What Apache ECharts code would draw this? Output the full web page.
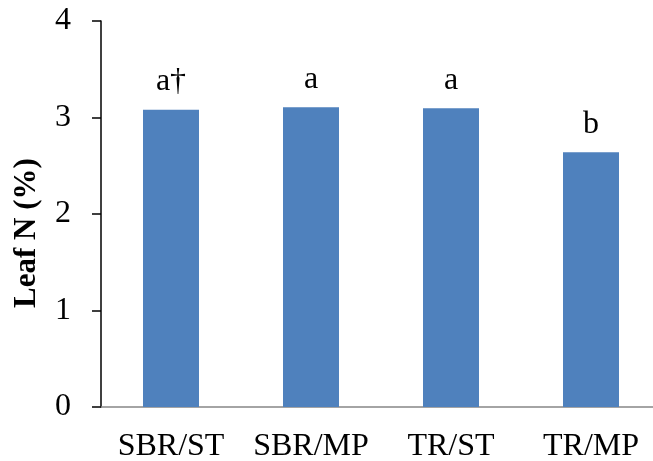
<!DOCTYPE html>
<html>
<head>
<meta charset="utf-8">
<script src="https://cdn.jsdelivr.net/npm/echarts@6/dist/echarts.min.js"></script>
<style>html,body{margin:0;padding:0;background:#fff;}#c{width:653px;height:461px;}</style>
</head>
<body>
<div id="c"></div>
<script>
const categories = ['SBR/ST', 'SBR/MP', 'TR/ST', 'TR/MP'];
const leafN = [3.08, 3.105, 3.095, 2.64];
const letters = ['a\u2020', 'a', 'a', 'b'];
const yTicks = [0, 1, 2, 3, 4];
const yTitle = 'Leaf N (%)';

const chart = echarts.init(document.getElementById('c'), null, {renderer: 'canvas'});
const serif = 'Liberation Serif';
chart.setOption({
  animation: false,
  grid: {left: 101, right: -8, top: 21, bottom: 54, containLabel: false, outerBoundsMode: 'none'},
  xAxis: {
    type: 'category',
    data: categories,
    axisLine: {lineStyle: {color: '#868686', width: 1.5}},
    axisTick: {show: false},
    axisLabel: {interval: 0, color: '#000', fontFamily: serif, fontSize: 32, margin: 24}
  },
  yAxis: {
    type: 'value',
    min: yTicks[0],
    max: yTicks[yTicks.length - 1],
    interval: 1,
    axisLine: {show: true, lineStyle: {color: '#000', width: 1.5}},
    axisTick: {show: true, length: 9, lineStyle: {color: '#000', width: 1.5}},
    splitLine: {show: false},
    axisLabel: {color: '#000', fontFamily: serif, fontSize: 32, margin: 30}
  },
  series: [{
    type: 'bar',
    data: leafN,
    barWidth: '40%',
    itemStyle: {color: '#4F81BD'},
    label: {
      show: true,
      position: 'top',
      distance: 12,
      formatter: p => letters[p.dataIndex],
      color: '#000',
      fontFamily: serif,
      fontSize: 32
    }
  }],
  graphic: [{
    type: 'text',
    x: 27,
    y: 233,
    rotation: Math.PI / 2,
    style: {
      text: yTitle,
      fontFamily: serif,
      fontWeight: 'bold',
      fontSize: 31,
      fill: '#000',
      align: 'center',
      verticalAlign: 'middle'
    }
  }]
});
</script>
</body>
</html>
